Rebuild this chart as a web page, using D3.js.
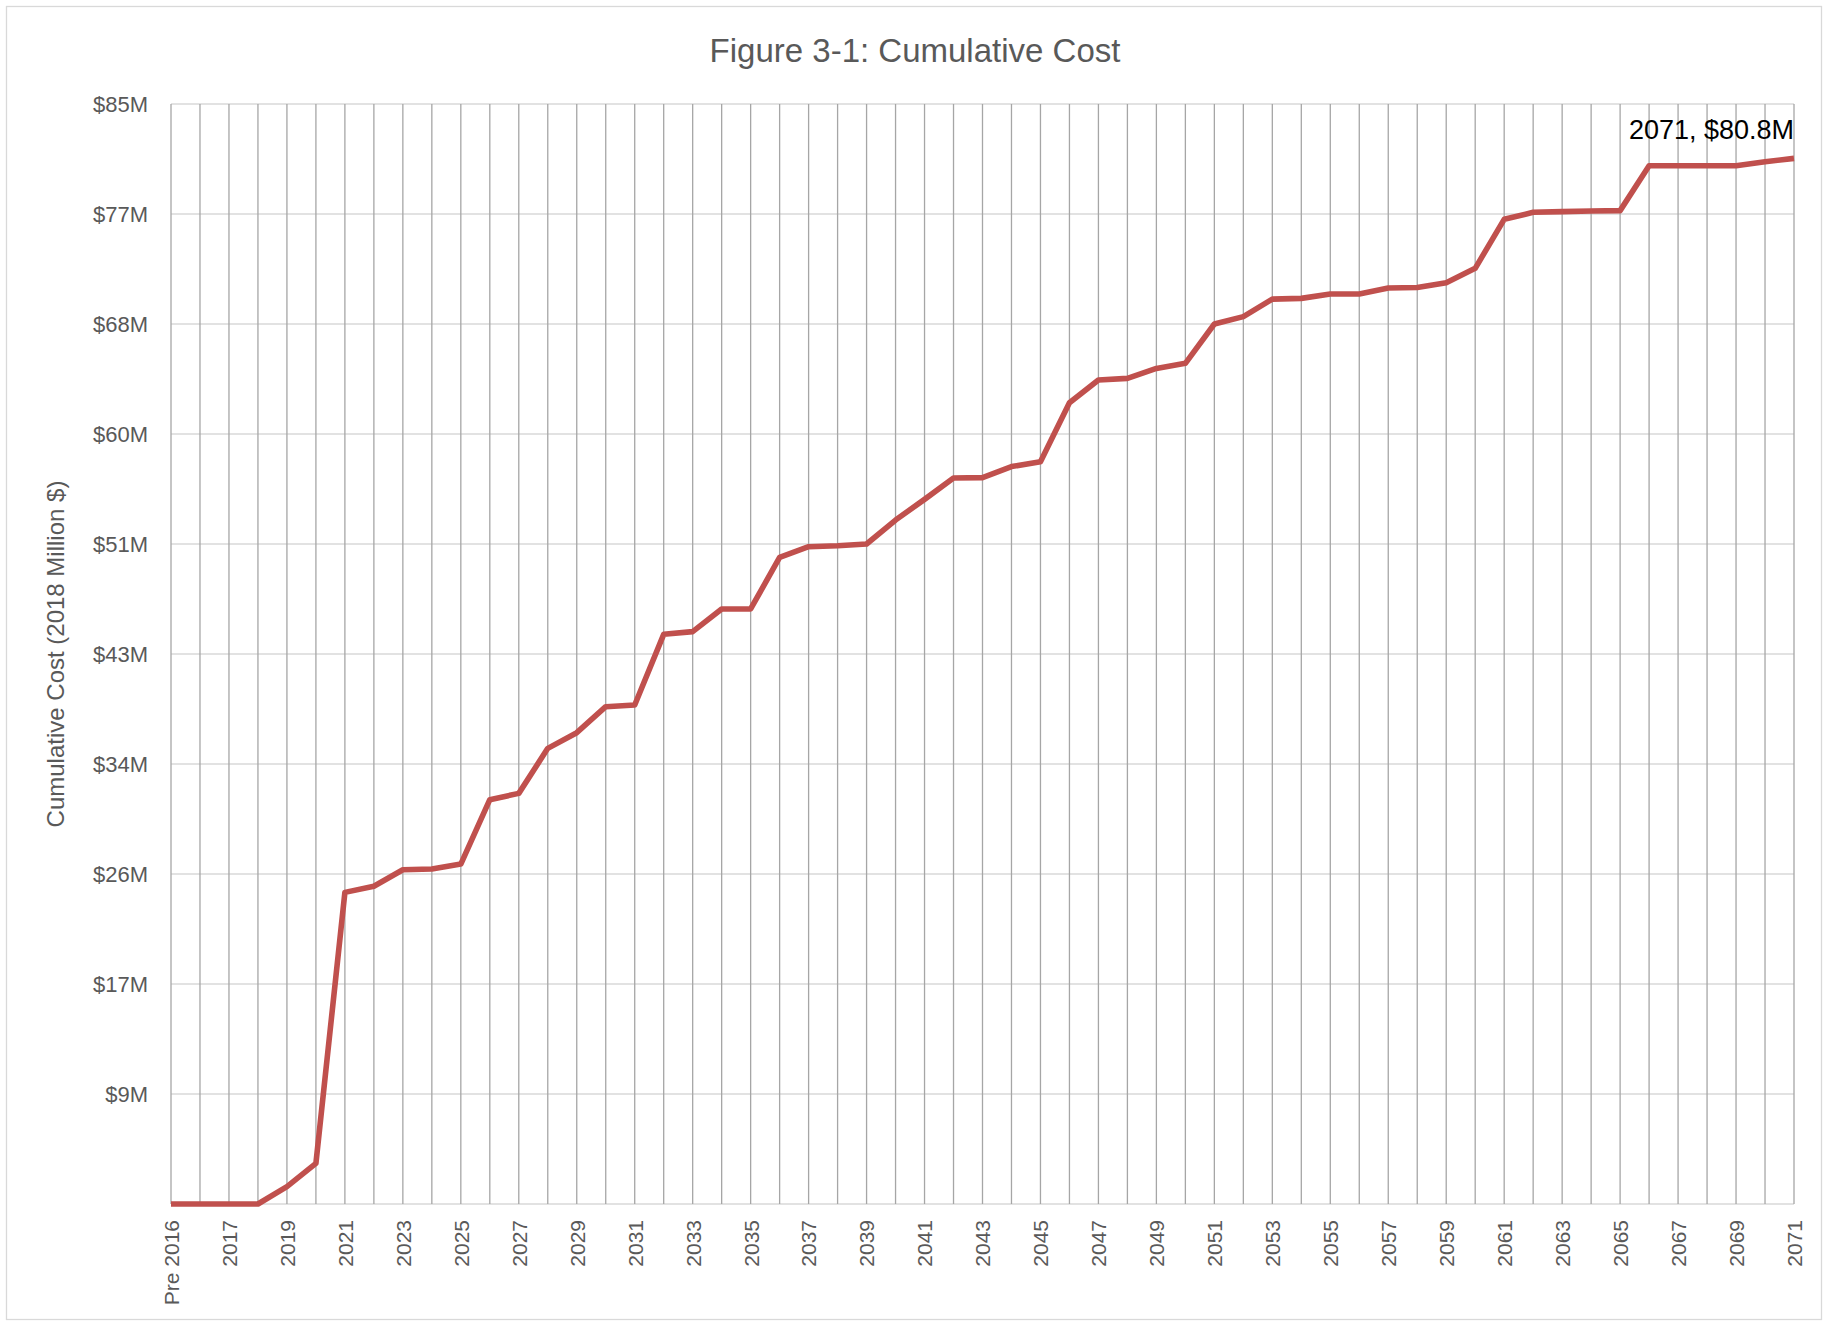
<!DOCTYPE html>
<html>
<head>
<meta charset="utf-8">
<script src="https://cdn.jsdelivr.net/npm/d3@7"></script>
<style>
  body { margin: 0; background: #fff; }
  svg text { font-family: "Liberation Sans", Arial, sans-serif; }
</style>
</head>
<body>
<div id="chart"></div>
<script>
// categories along the x axis
var years = ["Pre 2016"];
for (var yr = 2016; yr <= 2071; yr++) years.push(String(yr));

// cumulative cost, million 2018 $
var cumulativeCost = [
    0, 0, 0, 0, 1.34, 3.14, 24.08, 24.55, 25.83, 25.89,
    26.27, 31.24, 31.73, 35.21, 36.42, 38.43, 38.56, 44.02, 44.23, 45.98,
    45.98, 49.97, 50.79, 50.87, 51.0, 52.85, 54.45, 56.1, 56.13, 56.98,
    57.36, 61.92, 63.67, 63.80, 64.57, 64.96, 68.0, 68.57, 69.92, 69.98,
    70.32, 70.32, 70.78, 70.82, 71.19, 72.30, 76.09, 76.63, 76.68, 76.73,
    76.76, 80.23, 80.23, 80.23, 80.23, 80.54, 80.8
];

var yTickValues = [0, 8.5, 17, 25.5, 34, 42.5, 51, 59.5, 68, 76.5, 85];
var yTickLabels = ["", "$9M", "$17M", "$26M", "$34M", "$43M", "$51M", "$60M", "$68M", "$77M", "$85M"];

// only every other year is labelled
var xTickLabels = years.filter(function(d, i) { return i % 2 === 0; });

var W = 1827, H = 1323;
var plot = {left: 171, right: 1794, top: 104, bottom: 1204};

var svg = d3.select("#chart").append("svg")
    .attr("width", W)
    .attr("height", H);

// outer chart border
svg.append("rect")
    .attr("x", 6.5).attr("y", 6.5)
    .attr("width", 1815).attr("height", 1313)
    .attr("fill", "#fff")
    .attr("stroke", "#d9d9d9")
    .attr("stroke-width", 1.3);

var x = d3.scalePoint()
    .domain(years)
    .range([plot.left, plot.right]);

var y = d3.scaleLinear()
    .domain([0, 85])
    .range([plot.bottom, plot.top]);

// horizontal gridlines
svg.append("g")
    .selectAll("line")
    .data(yTickValues)
    .enter().append("line")
    .attr("x1", plot.left).attr("x2", plot.right)
    .attr("y1", function(d) { return y(d); })
    .attr("y2", function(d) { return y(d); })
    .attr("stroke", "#d9d9d9")
    .attr("stroke-width", 1.4);

// vertical gridlines, one per year
svg.append("g")
    .selectAll("line")
    .data(years)
    .enter().append("line")
    .attr("x1", function(d) { return x(d); })
    .attr("x2", function(d) { return x(d); })
    .attr("y1", plot.top).attr("y2", plot.bottom)
    .attr("stroke", "#a6a6a6")
    .attr("stroke-width", 1.3);

// y axis labels
var yAxis = d3.axisLeft(y)
    .tickValues(yTickValues)
    .tickSize(0)
    .tickPadding(23)
    .tickFormat(function(d, i) { return yTickLabels[i]; });

svg.append("g")
    .attr("transform", "translate(" + plot.left + ",0)")
    .call(yAxis)
    .call(function(g) { g.select(".domain").remove(); })
    .selectAll("text")
    .attr("fill", "#595959")
    .style("font-size", "22px")
    .style("font-family", "'Liberation Sans', Arial, sans-serif");

// x axis labels, rotated
var xAxis = d3.axisBottom(x)
    .tickValues(xTickLabels)
    .tickSize(0);

svg.append("g")
    .attr("transform", "translate(0," + plot.bottom + ")")
    .call(xAxis)
    .call(function(g) { g.select(".domain").remove(); })
    .selectAll("text")
    .attr("fill", "#595959")
    .style("font-size", "21px")
    .style("font-family", "'Liberation Sans', Arial, sans-serif")
    .attr("text-anchor", "end")
    .attr("x", 0)
    .attr("y", 0)
    .attr("dy", "0.35em")
    .attr("transform", "translate(0,16)rotate(-90)");

// the cost line
var line = d3.line()
    .x(function(d, i) { return x(years[i]); })
    .y(function(d) { return y(d); });

svg.append("path")
    .datum(cumulativeCost)
    .attr("d", line)
    .attr("fill", "none")
    .attr("stroke", "#c0504d")
    .attr("stroke-width", 5.6)
    .attr("stroke-linejoin", "round");

// end label
var last = cumulativeCost.length - 1;
svg.append("text")
    .attr("x", x(years[last]))
    .attr("y", 139)
    .attr("text-anchor", "end")
    .attr("fill", "#000")
    .style("font-size", "27px")
    .text(years[last] + ", $" + cumulativeCost[last].toFixed(1) + "M");

// title
svg.append("text")
    .attr("x", 915)
    .attr("y", 62)
    .attr("text-anchor", "middle")
    .attr("fill", "#595959")
    .style("font-size", "33px")
    .text("Figure 3-1: Cumulative Cost");

// y axis title
svg.append("text")
    .attr("transform", "translate(56," + ((plot.top + plot.bottom) / 2) + ")rotate(-90)")
    .attr("text-anchor", "middle")
    .attr("dy", "0.35em")
    .attr("fill", "#595959")
    .style("font-size", "24px")
    .text("Cumulative Cost (2018 Million $)");
</script>
</body>
</html>
